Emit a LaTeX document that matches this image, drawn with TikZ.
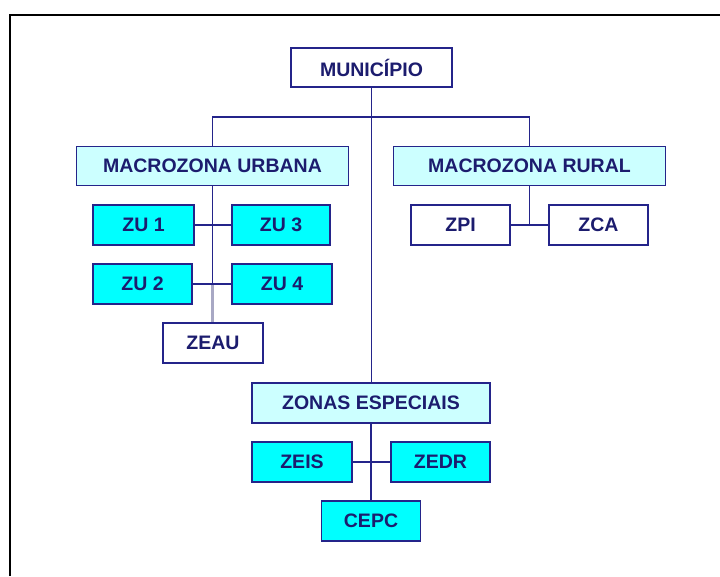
\documentclass[tikz,border=0pt]{standalone}
\usepackage{fontspec}
\setmainfont{Liberation Sans}
\usetikzlibrary{backgrounds}
\definecolor{navy}{HTML}{24248A}
\definecolor{txt}{HTML}{1C1C6E}
\definecolor{lcyan}{HTML}{CCFFFF}
\definecolor{cyanf}{HTML}{00FFFF}
\definecolor{grayl}{HTML}{A8A8C4}
\tikzset{
  box/.style={draw=navy, line width=1.4pt, inner sep=0pt, minimum height=39pt,
    font=\fontsize{19.5}{23}\selectfont\bfseries, text=txt, fill=white},
  macro/.style={box, fill=lcyan},
  zone/.style={box, fill=cyanf, minimum height=40pt},
  plain/.style={box, minimum height=40pt},
  conn/.style={draw=navy, line width=1.6pt},
}
\begin{document}
\begin{tikzpicture}[x=1pt,y=-1pt]
\useasboundingbox (0,0) rectangle (720,576);
\draw[line width=2pt] (10,576) -- (10,15) -- (720,15);
\node[box, minimum width=161pt] (mun) at (371.5,67.5) {MUNICÍPIO};
\node[macro, minimum width=272pt] (mu) at (212.5,166) {MACROZONA URBANA};
\node[macro, minimum width=272pt] (mr) at (529.5,166) {MACROZONA RURAL};
\node[zone, minimum width=101pt] (zu1) at (143.5,225) {ZU 1};
\node[zone, minimum width=98pt] (zu3) at (281,225) {ZU 3};
\node[zone, minimum width=99pt] (zu2) at (142.5,284) {ZU 2};
\node[zone, minimum width=100pt] (zu4) at (282,284) {ZU 4};
\node[plain, minimum width=100pt] (zeau) at (213,343) {ZEAU};
\node[plain, minimum width=99pt] (zpi) at (460.5,225) {ZPI};
\node[plain, minimum width=99pt] (zca) at (598.5,225) {ZCA};
\node[macro, minimum width=238pt, minimum height=40pt] (ze) at (371,403) {ZONAS ESPECIAIS};
\node[zone, minimum width=100pt] (zeis) at (302,462) {ZEIS};
\node[zone, minimum width=99pt] (zedr) at (440.5,462) {ZEDR};
\node[zone, minimum width=99pt] (cepc) at (371,521) {CEPC};
\coordinate (bar) at (371.5,117);
\coordinate (uj) at (212.5,284);
\coordinate (rj) at (529.5,225);
\coordinate (ej) at (371,462);
\begin{pgfonlayer}{background}
\path[conn] (mun.south) -- (mun.south |- ze.north);
\path[conn] (mu.north) |- (bar) -| (mr.north);
\path[conn] (mu.south) -- (uj);
\path[draw=grayl, line width=2.2pt] (uj) -- (uj |- zeau.north);
\path[conn] (zu1.east) -- (zu3.west);
\path[conn] (zu2.east) -- (zu4.west);
\path[conn] (mr.south) -- (rj);
\path[conn] (zpi.east) -- (zca.west);
\path[conn, line width=2.4pt] (ze.south) -- (ej);
\path[conn] (zeis.east) -- (zedr.west);
\path[conn] (ej) -- (cepc.north);
\end{pgfonlayer}
\end{tikzpicture}
\end{document}
